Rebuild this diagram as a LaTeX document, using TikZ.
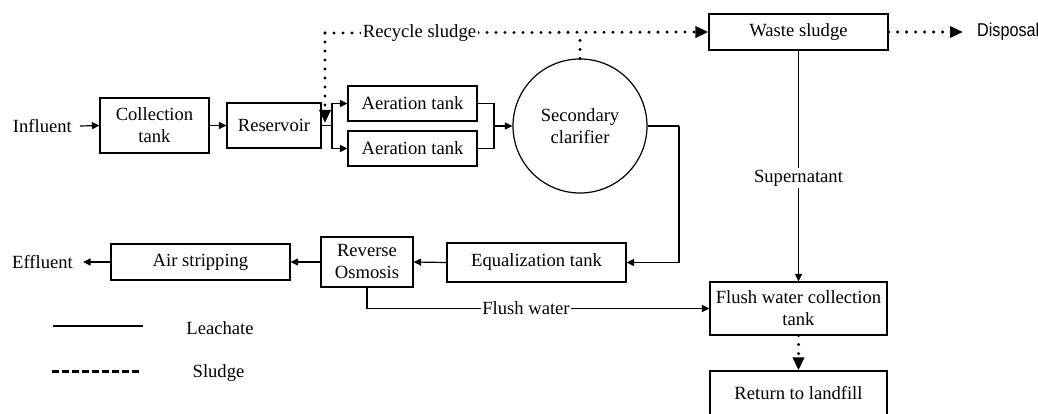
\documentclass[tikz,border=0pt]{standalone}
\usepackage{graphicx}
\usepackage{fontspec}
\setmainfont{Liberation Serif}
\newfontfamily\dispfont{Liberation Sans}
\usetikzlibrary{arrows.meta}
\begin{document}
\begin{tikzpicture}[x=1pt,y=-1pt,
  font=\fontsize{18.6}{22}\selectfont,
  box/.style={draw, line width=1.2pt, inner sep=0pt, align=center},
  leach/.style={line width=1.2pt},
  larrow/.style={leach, -{Triangle[length=7.5pt,width=7pt]}},
  sludge/.style={line width=3.3pt, line cap=round, dash pattern=on 0pt off 9pt},
  sarrow/.style={sludge, -{Triangle[length=13pt,width=11pt]}},
  lbl/.style={inner sep=1.5pt, fill=white}]
\clip (0,0) rectangle (1038,414);
\fill[white] (0,0) rectangle (1038,414);
% nodes
\node[box, minimum width=109pt, minimum height=55pt] (coll) at (154.5,125.5) {Collection\\tank};
\node[box, minimum width=94pt, minimum height=45pt] (res) at (274,125.5) {Reservoir};
\node[box, minimum width=129pt, minimum height=35pt] (aer1) at (412.5,103.5) {Aeration tank};
\node[box, minimum width=129pt, minimum height=35pt] (aer2) at (412.5,148.5) {Aeration tank};
\node[draw, circle, line width=1.2pt, minimum size=134pt, inner sep=0pt, align=center] (clar) at (580,126) {Secondary\\clarifier};
\node[box, minimum width=179pt, minimum height=36pt] (waste) at (798.5,32) {Waste sludge};
\node[box, minimum width=179pt, minimum height=39pt] (eq) at (536.5,262.5) {Equalization tank};
\node[box, minimum width=92pt, minimum height=50pt] (ro) at (367,262) {Reverse\\Osmosis};
\node[box, minimum width=179pt, minimum height=36pt] (air) at (200.5,262) {Air stripping};
\node[box, minimum width=177pt, minimum height=53pt] (flush) at (798.5,308.5) {Flush water collection\\tank};
\node[box, minimum width=177pt, minimum height=44pt] (ret) at (798.5,393) {Return to landfill};
\node[anchor=east, inner xsep=8pt, inner ysep=0pt] (infl) at (80,126) {Influent};
\node[anchor=east, inner xsep=10pt, inner ysep=0pt] (effl) at (83,262) {Effluent};
\node[anchor=west, inner sep=0pt] (disp) at (977,32) {\dispfont\scalebox{0.87}[1]{Disposal}};
% coordinates
\coordinate (jn) at (332,125.5);
\coordinate (jn2) at (494,126);
\coordinate (cout) at (679,126);
\coordinate (rc) at (325,33);
\coordinate (rtip) at (325,123);
\coordinate (ctop) at (580,33);
% leachate lines
\draw[larrow] (infl.east) -- (coll.west);
\draw[larrow] (coll.east) -- (res.west);
\draw[leach] (res.east) -- (jn);
\draw[larrow] (jn) |- (aer1.west);
\draw[larrow] (jn) |- (aer2.west);
\draw[leach] (aer1.east) -| (jn2);
\draw[leach] (aer2.east) -| (jn2);
\draw[larrow] (jn2) -- (clar.west);
\draw[leach] (clar.east) -- (cout);
\draw[larrow] (cout) |- (eq.east);
\draw[larrow] (eq.west) -- (ro.east);
\draw[larrow] (ro.west) -- (air.east);
\draw[larrow] (air.west) -- (effl.east);
\draw[larrow] (ro.south) |- (flush.west);
\node[lbl] (fwl) at (526,308) {Flush water};
\draw[larrow] (waste.south) -- node[lbl, pos=0.552] (sup) {Supernatant} (flush.north);
% sludge lines
\draw[sarrow] (rc) -- (waste.west);
\draw[sarrow] (rc) -- (rtip);
\draw[sludge] (clar.north) -- (ctop);
\node[lbl] (rsl) at (419.5,33) {Recycle sludge};
\draw[sarrow, shorten >=14pt] (waste.east) -- (disp.west);
\draw[sarrow] (flush.south) -- (ret.north);
% legend
\coordinate (l1a) at (53,326);
\coordinate (l1b) at (143,326);
\draw[leach] (l1a) -- (l1b);
\node (leg1) at (220,328) {Leachate};
\coordinate (l2a) at (52,371);
\coordinate (l2b) at (140,371);
\draw[line width=3pt, dash pattern=on 7pt off 3pt] (l2a) -- (l2b);
\node (leg2) at (218.5,373) {Sludge};
\end{tikzpicture}
\end{document}
